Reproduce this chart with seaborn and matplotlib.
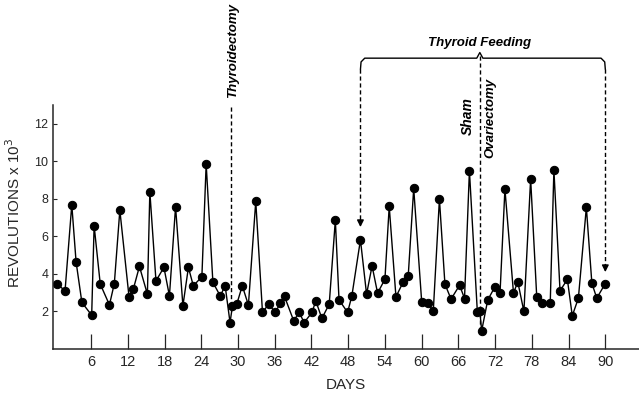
import matplotlib
matplotlib.use('Agg')
import matplotlib.pyplot as plt
import seaborn as sns

# values (day, revolutions x 10^3)
days = [0.5, 1.75, 2.85, 3.55, 4.5, 6.1, 6.5, 7.5, 9.0, 9.8,
        10.7, 12.2, 12.9, 13.9, 15.2, 15.6, 16.6, 17.9, 18.8, 19.8,
        21.0, 21.9, 22.7, 24.1, 24.8, 25.9, 27.1, 27.9, 28.7, 29.1,
        29.8, 30.7, 31.7, 32.9, 34.0, 35.0, 36.1, 36.9, 37.6, 39.1,
        40.0, 40.8, 42.1, 42.7, 43.7, 44.9, 45.9, 46.5, 47.9, 48.6,
        50.0, 51.0, 51.9, 52.8, 54.0, 54.7, 55.8, 57.0, 57.8, 58.7,
        60.0, 61.0, 61.9, 62.9, 63.8, 64.8, 66.2, 67.0, 67.8, 69.1,
        69.5, 69.8, 70.8, 72.0, 72.8, 73.6, 75.0, 75.7, 76.7, 77.8,
        78.8, 79.7, 81.0, 81.6, 82.6, 83.8, 84.6, 85.6, 86.9, 87.8,
        88.6, 90.0]
revolutions = [3.46, 3.10, 7.69, 4.65, 2.48, 1.80, 6.57, 3.46, 2.35, 3.49,
               7.40, 2.78, 3.19, 4.40, 2.92, 8.38, 3.63, 4.35, 2.83, 7.58,
               2.30, 4.35, 3.37, 3.85, 9.86, 3.55, 2.83, 3.37, 1.41, 2.30,
               2.39, 3.37, 2.34, 7.87, 1.95, 2.39, 1.95, 2.44, 2.80, 1.50,
               1.95, 1.41, 1.95, 2.57, 1.63, 2.39, 6.87, 2.62, 1.95, 2.83,
               5.82, 2.92, 4.43, 2.98, 3.72, 7.60, 2.78, 3.58, 3.87, 8.56,
               2.53, 2.44, 2.03, 7.99, 3.46, 2.66, 3.40, 2.69, 9.50, 1.95,
               2.03, 0.97, 2.62, 3.33, 2.98, 8.52, 2.98, 3.58, 2.00, 9.06,
               2.75, 2.44, 2.44, 9.54, 3.10, 3.71, 1.77, 2.71, 7.55, 3.51,
               2.71, 3.49]
day_ticks = list(range(6, 91, 6))
rev_ticks = [2, 4, 6, 8, 10, 12]

thyroidectomy_day = 28.9
feeding_start, feeding_mid, feeding_end = 50, 69.5, 90

sns.set_style('ticks')
plt.rcParams['font.family'] = ['Liberation Sans', 'DejaVu Sans']

fig = plt.figure(figsize=(6.39, 3.96), dpi=100)
ax = fig.add_axes([52.5 / 639, 47 / 396, 586.5 / 639, 349 / 396])

sns.lineplot(x=days, y=revolutions, ax=ax, color='black', marker='o',
             markersize=6, linewidth=1.0, markeredgecolor='black',
             estimator=None, sort=False)

ax.set_xlim(-0.3, 95.5)
ax.set_ylim(0, 18.6)
ax.set_xticks(day_ticks)
ax.set_yticks(rev_ticks)
ax.tick_params(axis='x', direction='in', length=11, width=0.9, labelsize=10.5, pad=4)
ax.tick_params(axis='y', direction='in', length=3, width=0.8, labelsize=9, pad=3)
sns.despine(ax=ax)
ax.spines['left'].set_bounds(0, 13)
ax.spines['left'].set_linewidth(1.1)
ax.spines['bottom'].set_linewidth(1.1)

ax.set_xlabel('DAYS', fontsize=11)
ax.xaxis.set_label_coords(0.5, -0.083)
ax.set_ylabel('REVOLUTIONS x 10$^3$', fontsize=11)
ax.yaxis.set_label_coords(-0.05, 0.39)

dash = (0, (3, 2))
anno = dict(fontsize=9.5, style='italic', fontweight='bold', color='black')

# thyroidectomy marker
ax.plot([thyroidectomy_day, thyroidectomy_day], [12.9, 2.0], color='black', lw=1, ls=dash)
ax.text(thyroidectomy_day + 0.3, 15.9, 'Thyroidectomy', rotation=90,
        ha='center', va='center', **anno)

# thyroid feeding bracket
bx = [feeding_start, feeding_start + 0.1, feeding_start + 0.7, feeding_mid - 0.5,
      feeding_mid, feeding_mid + 0.5, feeding_end - 0.7, feeding_end - 0.1, feeding_end]
by = [14.9, 15.3, 15.5, 15.5, 15.8, 15.5, 15.5, 15.3, 14.9]
ax.plot(bx, by, color='black', lw=1)
ax.text(feeding_mid, 16.3, 'Thyroid Feeding', ha='center', va='center', **anno)

ax.plot([feeding_start, feeding_start], [14.9, 6.9], color='black', lw=1, ls=dash)
ax.plot([feeding_end, feeding_end], [14.9, 4.5], color='black', lw=1, ls=dash)
ax.plot([feeding_mid, feeding_mid], [15.6, 1.0], color='black', lw=1, ls=dash)
for xa, ya in [(feeding_start, 6.35), (feeding_end, 3.95)]:
    ax.annotate('', xy=(xa, ya), xytext=(xa, ya + 0.7),
                arrowprops=dict(arrowstyle='-|>', color='black', lw=1, mutation_scale=10))

ax.text(feeding_mid - 1.9, 12.4, 'Sham', rotation=90, ha='center', va='center',
        **{**anno, 'fontsize': 10})
ax.text(feeding_mid + 1.7, 12.3, 'Ovariectomy', rotation=90, ha='center', va='center', **anno)

fig.savefig('out.png', dpi=100)
